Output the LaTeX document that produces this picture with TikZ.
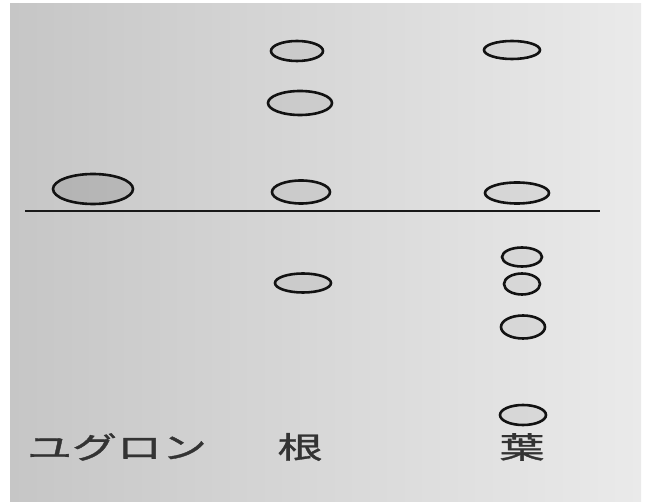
\documentclass[tikz,border=0pt]{standalone}
\usepackage{fontspec}
\newfontfamily\jpfont[FakeStretch=1.5, FakeBold=1.2]{Noto Sans CJK JP}
\usetikzlibrary{shapes.geometric}
\definecolor{bgLeft}{HTML}{C6C6C6}
\definecolor{bgRight}{HTML}{EAEAEA}
\definecolor{spotLine}{HTML}{121212}
\tikzset{
  spot/.style={ellipse, draw=spotLine, line width=2.6pt, inner sep=0pt, fill=black, fill opacity=0.05, draw opacity=1},
  lanelabel/.style={font=\jpfont\fontsize{30}{30}\selectfont, inner sep=0pt, text=black!80}
}

\begin{document}
\begin{tikzpicture}[x=1pt, y=-1pt]
    \useasboundingbox (0,0) rectangle (645,502);
    % scanned plate
    \shade[left color=bgLeft, right color=bgRight] (10,4) rectangle (641,502);
    % origin line
    \coordinate (origin west) at (25,211);
    \coordinate (origin east) at (600,211);
    \draw[line width=2.8pt, black!90] (origin west) -- (origin east);
    % standard spot
    \node[spot, fill opacity=0.1, minimum width=80, minimum height=30] (yug) at (93,189) {};
    % root lane
    \foreach \name/\x/\y/\w/\h in {ne1/297/51/52/20, ne2/300/103/64/24, ne3/301/192/58/23, ne4/303/283/56/19}
      \node[spot, minimum width=\w, minimum height=\h] (\name) at (\x,\y) {};
    % leaf lane
    \foreach \name/\x/\y/\w/\h in {ha1/512/50/56/18, ha2/517/193/64/21, ha3/522/257/40/19, ha4/522/284/36/21, ha5/523/327/44/23, ha6/523/415/46/20}
      \node[spot, minimum width=\w, minimum height=\h] (\name) at (\x,\y) {};
    % lane labels
    \node[lanelabel] (yuguron) at (117,447) {ユグロン};
    \node[lanelabel] (root) at (300,447) {根};
    \node[lanelabel] (leaf) at (522,447) {葉};
\end{tikzpicture}
\end{document}
